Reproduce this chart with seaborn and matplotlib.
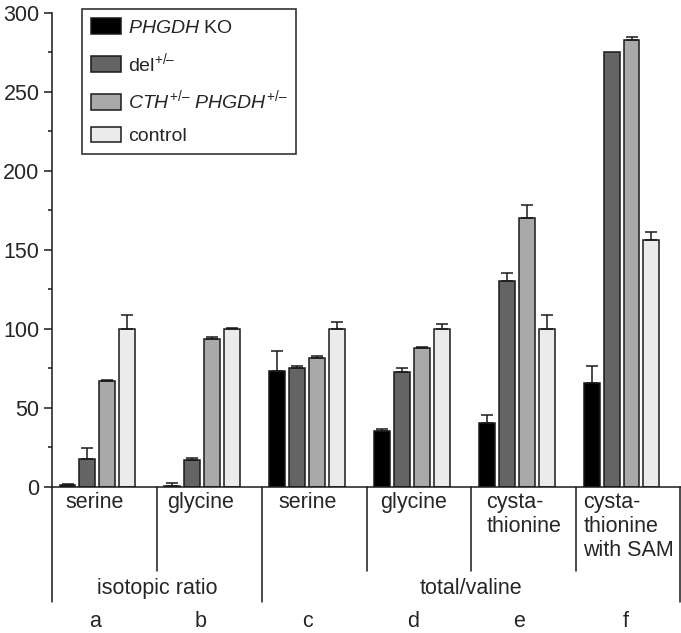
import numpy as np
import pandas as pd
import matplotlib
matplotlib.use("Agg")
import matplotlib.pyplot as plt
import seaborn as sns

# panel letters, lower labels and the two big headings
groups = ["a", "b", "c", "d", "e", "f"]
inner_labels = ["serine", "glycine", "serine", "glycine",
                "cysta-\nthionine", "cysta-\nthionine\nwith SAM"]
outer_labels = ["isotopic ratio", "total/valine"]
outer_spans = [(0, 1), (2, 5)]

genotypes = ["PHGDH KO", "del+/-", "CTH+/- PHGDH+/-", "control"]
legend_labels = ["$\\mathit{PHGDH}$ KO", "del$^{+/\u2013}$",
                 "$\\mathit{CTH}^{+/\u2013}$ $\\mathit{PHGDH}^{+/\u2013}$", "control"]
colors = ["#000000", "#646464", "#a9a9a9", "#ebebeb"]

ko = [1.2, 0.8, 73.4, 35.5, 40.2, 65.6]
ko_err = [1.0, 2.0, 12.4, 1.5, 5.2, 11.2]
het_del = [17.9, 16.8, 75.1, 72.5, 130.0, 275.0]
het_del_err = [6.5, 1.3, 1.4, 2.8, 5.6, 0.0]
cth = [66.9, 93.5, 81.8, 88.1, 169.9, 282.8]
cth_err = [0.8, 1.4, 1.0, 0.5, 8.2, 1.7]
control = [100.0, 100.0, 100.0, 100.0, 100.0, 156.3]
control_err = [9.0, 0.8, 4.3, 3.3, 9.0, 5.2]

values = [ko, het_del, cth, control]
errors = [ko_err, het_del_err, cth_err, control_err]

rows = []
for g, vals in zip(genotypes, values):
    for grp, v in zip(groups, vals):
        rows.append({"group": grp, "genotype": g, "value": v})
df = pd.DataFrame(rows)

sns.set_style("ticks")
plt.rcParams["font.family"] = ["Liberation Sans", "DejaVu Sans"]
plt.rcParams["mathtext.fontset"] = "custom"
plt.rcParams["mathtext.rm"] = "Liberation Sans"
plt.rcParams["mathtext.it"] = "Liberation Sans:italic"
fs = 15.5
lw = 1.1
ink = "#1a1a1a"

fig = plt.figure(figsize=(6.81, 6.33), dpi=100)
ax = fig.add_axes([52 / 681, 1 - 487 / 633, 629 / 681, 474.3 / 633])

sns.barplot(data=df, x="group", y="value", hue="genotype", hue_order=genotypes,
            palette=colors, width=0.76, gap=0.2, edgecolor=ink,
            linewidth=lw, errorbar=None, legend=False, saturation=1, ax=ax)

# upper error bars only
for cont, errs in zip(ax.containers, errors):
    for patch, e in zip(cont.patches, errs):
        if e <= 0:
            continue
        xc = patch.get_x() + patch.get_width() / 2
        ax.errorbar(xc, patch.get_height(), yerr=[[0], [e]], fmt="none",
                    ecolor=ink, elinewidth=lw, capsize=4, capthick=lw,
                    zorder=1)

off = 0.433
ax.set_xlim(-off, len(groups) - off)
ax.set_ylim(0, 300)
ax.set_yticks(np.arange(0, 301, 50))
ax.set_yticks(np.arange(0, 301, 25), minor=True)
ax.tick_params(axis="y", which="major", length=6, width=lw, labelsize=fs,
               pad=3, color=ink)
ax.tick_params(axis="y", which="minor", length=3, width=lw, color=ink)
ax.tick_params(axis="x", bottom=False, labelbottom=False)
ax.set_xlabel("")
ax.set_ylabel("")
for s in ["top", "right"]:
    ax.spines[s].set_visible(False)
for s in ["left", "bottom"]:
    ax.spines[s].set_linewidth(lw)
    ax.spines[s].set_color(ink)

tr = ax.get_xaxis_transform()
idx = np.arange(len(groups))
group_mid = idx + 0.5 - off
label_x = idx * 1.013 - 0.025

# separators below the axis
for i in [0, 2, 3, 4]:
    xs = i + 1 - off
    ax.plot([xs, xs], [0, -0.177], transform=tr, clip_on=False,
            color=ink, lw=lw)
for xs in [-off, 2 - off, len(groups) - off - 0.006]:
    ax.plot([xs, xs], [0, -0.2425], transform=tr, clip_on=False,
            color=ink, lw=lw)

for i, lab in enumerate(inner_labels):
    if "\n" in lab:
        ax.text(group_mid[i], -0.01, lab, transform=tr, ha="center", va="top",
                fontsize=fs, linespacing=1.2, multialignment="left")
    else:
        ax.text(label_x[i], -0.01, lab, transform=tr, ha="center", va="top",
                fontsize=fs)
for (a, b), lab in zip(outer_spans, outer_labels):
    xm = (a - off + b + 1 - off) / 2
    ax.text(xm, -0.213, lab, transform=tr, ha="center", va="center", fontsize=fs)
for x, lab in zip(label_x, groups):
    ax.text(x, -0.284, lab, transform=tr, ha="center", va="center", fontsize=fs)

handles = [plt.Rectangle((0, 0), 1, 1, facecolor=col, edgecolor=ink, lw=lw)
           for col in colors]
lfs = 14
leg = ax.legend(handles, legend_labels, loc="upper left",
                bbox_to_anchor=(0.048, 1.007), borderaxespad=0, fontsize=lfs,
                handlelength=1.55, handleheight=0.88, labelspacing=0.72,
                borderpad=0.45, handletextpad=0.35, fancybox=False, framealpha=1)
leg.get_frame().set_edgecolor("#333333")
leg.get_frame().set_linewidth(1.2)

fig.savefig("out.png", dpi=100)
